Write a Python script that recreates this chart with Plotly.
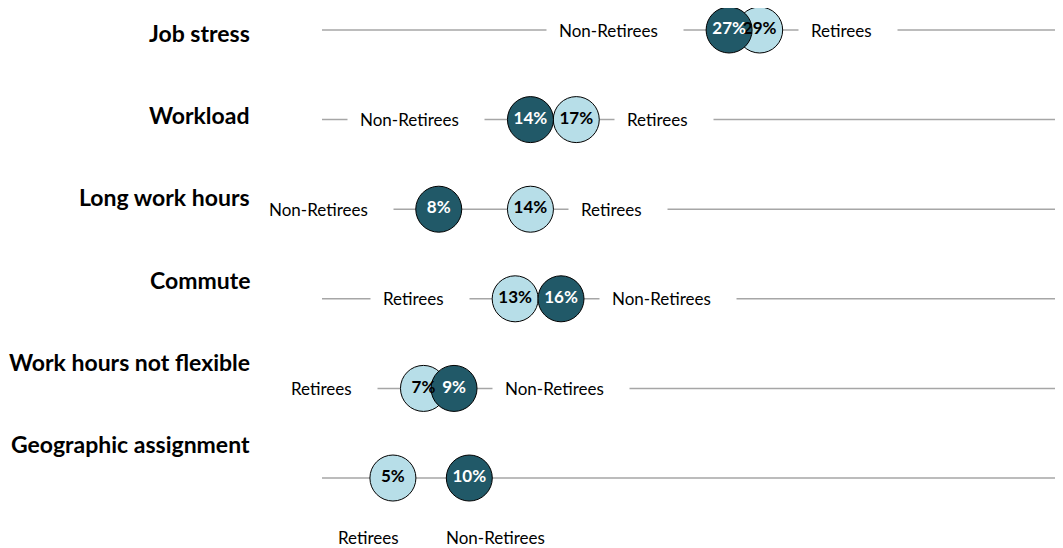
import plotly.graph_objects as go

categories = ["Job stress", "Workload", "Long work hours", "Commute",
              "Work hours not flexible", "Geographic assignment"]
retirees = [29, 17, 14, 13, 7, 5]
non_retirees = [27, 14, 8, 16, 9, 10]
group_names = ["Retirees", "Non-Retirees"]

FONT = "Lato, Carlito, Calibri, sans-serif"
DARK = "#215968"
LIGHT = "#B7DEE8"
LINE = "#A6A6A6"

W, H = 1055, 540        # page adds an 8px body margin
L = 314                 # left margin of the plot area

rows = list(range(len(categories)))

fig = go.Figure()

# one grey guide line per row, across the whole plot
for r in rows:
    fig.add_shape(type="line", xref="paper", x0=0, x1=1, yref="y", y0=r, y1=r,
                  line=dict(color=LINE, width=1.5), layer="below")

# circles: light (retirees) below, dark (non-retirees) on top
for vals, color in [(retirees, LIGHT), (non_retirees, DARK)]:
    fig.add_trace(go.Scatter(
        x=vals, y=rows, mode="markers", cliponaxis=False,
        marker=dict(size=46, color=color, opacity=1,
                    line=dict(color="black", width=1)),
        hoverinfo="skip"
    ))

# value labels drawn after all circles so they sit on top
for vals, color in [(retirees, "black"), (non_retirees, "white")]:
    fig.add_trace(go.Scatter(
        x=vals, y=rows, mode="text", cliponaxis=False,
        text=[f"{v}%" for v in vals], textposition="middle center",
        textfont=dict(family=FONT, size=17, color=color, weight="bold"),
        hoverinfo="skip"
    ))

# series names next to each circle
pad = "\u00a0\u00a0\u00a0"
for r in rows:
    pair = [(group_names[0], retirees[r], non_retirees[r]),
            (group_names[1], non_retirees[r], retirees[r])]
    for name, v, other in pair:
        left = v < other
        if r == rows[-1]:
            # last row: names sit below the circles
            fig.add_annotation(x=v, y=r, xref="x", yref="y", text=name, showarrow=False,
                               xanchor="center", yanchor="middle",
                               xshift=-24 if left else 26, yshift=-59,
                               font=dict(family=FONT, size=17, color="black"))
        else:
            fig.add_annotation(x=v, y=r, xref="x", yref="y", text=name + pad, showarrow=False,
                               xanchor="right" if left else "left", yanchor="middle",
                               xshift=-45 if left else 38,
                               bgcolor="white", borderpad=12,
                               font=dict(family=FONT, size=17, color="black"))

# category names on the left
for i, cat in enumerate(categories):
    fig.add_annotation(x=(244 - L) / (W - L), y=1 - (25 + 82.2 * i) / H,
                       xref="paper", yref="paper", text=cat, showarrow=False,
                       xanchor="right", yanchor="middle",
                       font=dict(family=FONT, size=23, color="black", weight="bold"))

fig.update_layout(
    width=W, height=H,
    margin=dict(l=L, r=0, t=0, b=0),
    paper_bgcolor="white", plot_bgcolor="white",
    showlegend=False,
    xaxis=dict(range=[0.36, 48.85], visible=False),
    yaxis=dict(range=[5.781, -0.2455], visible=False),
)

fig.write_html("out.html")
